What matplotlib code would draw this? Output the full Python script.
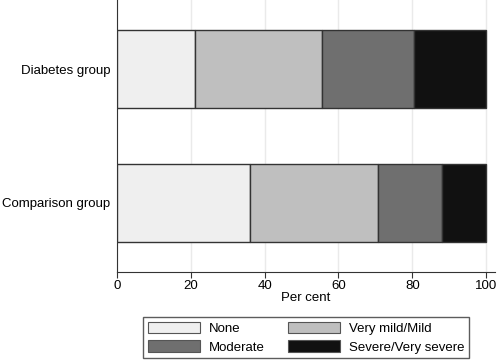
import matplotlib
matplotlib.use('Agg')
import matplotlib.pyplot as plt
from matplotlib.patches import Patch
import numpy as np

plt.rcParams['font.family'] = ['Liberation Sans', 'DejaVu Sans']

groups = ['Comparison group', 'Diabetes group']
categories = ['None', 'Very mild/Mild', 'Moderate', 'Severe/Very severe']
# percent in each category, per group (comparison, diabetes)
none = [36.0, 21.1]
mild = [34.7, 34.5]
moderate = [17.4, 24.9]
severe = [11.9, 19.5]
colors = ['#efefef', '#bfbfbf', '#6f6f6f', '#111111']
FS = 9.5

fig = plt.figure(figsize=(5, 3.61), dpi=100)
ax = fig.add_axes([0.234, 0.247, 0.756, 0.753])

y = np.arange(len(groups))
left = np.zeros(len(groups))
for vals, col, lab in zip([none, mild, moderate, severe], colors, categories):
    ax.barh(y, vals, left=left, height=0.585, color=col, edgecolor='#333333',
            linewidth=1.0, label=lab, zorder=3)
    left += np.array(vals)

ax.set_xlim(0, 102.4)
ax.set_ylim(-0.52, 1.52)
ax.set_xticks([0, 20, 40, 60, 80, 100])
ax.set_yticks(y)
ax.set_yticklabels(groups, fontsize=FS)
ax.tick_params(axis='x', labelsize=FS, length=4, color='#333333', pad=2)
ax.tick_params(axis='y', length=0, pad=5)
ax.grid(axis='x', color='#eaeaea', linewidth=1.0, zorder=0)
ax.set_xlabel('Per cent', fontsize=FS, labelpad=0)
for s in ['top', 'right']:
    ax.spines[s].set_visible(False)
for s in ['left', 'bottom']:
    ax.spines[s].set_color('#333333')

# legend fills row by row in the reference
order = [0, 2, 1, 3]
handles = [Patch(facecolor=colors[i], edgecolor='#555555', linewidth=0.8) for i in order]
labels = [categories[i] for i in order]
leg = fig.legend(handles, labels, loc='upper left', bbox_to_anchor=(143 / 500, 1 - 317 / 361),
                 ncol=2, fontsize=FS, frameon=True, fancybox=False,
                 edgecolor='#333333', handlelength=3.95, handleheight=1.0,
                 handletextpad=0.68, columnspacing=1.75, labelspacing=0.4,
                 borderpad=0.35, borderaxespad=0)
leg.get_frame().set_linewidth(1.0)

fig.savefig('out.png', dpi=100)
